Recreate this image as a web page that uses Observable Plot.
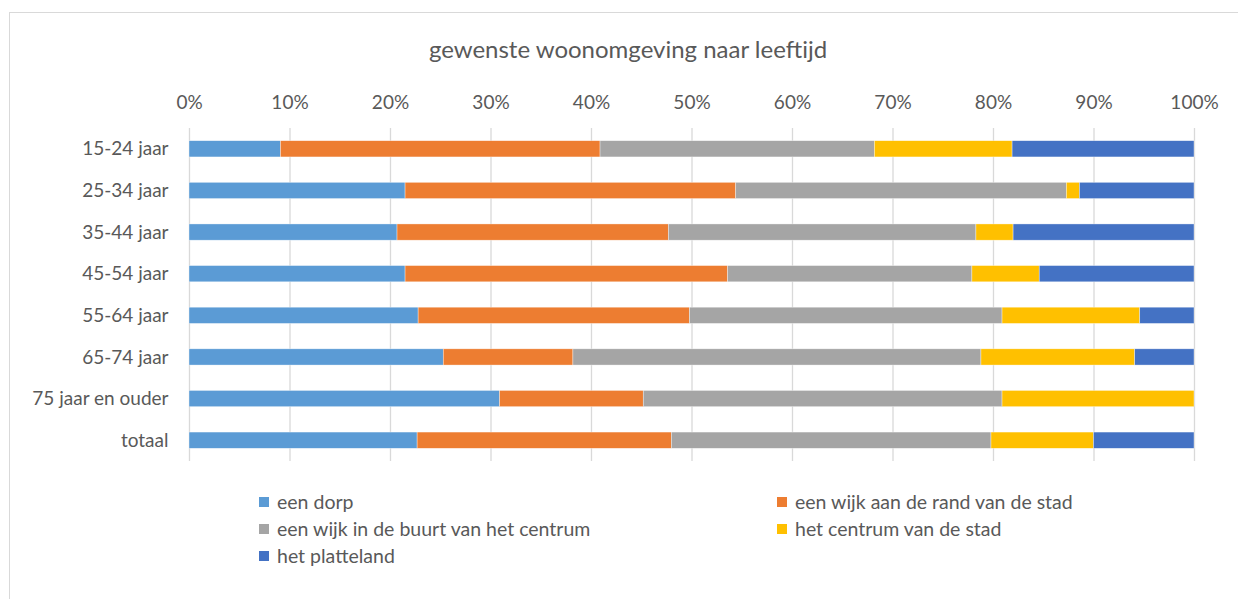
<!DOCTYPE html>
<html>
<head>
<meta charset="utf-8">
<script src="https://cdn.jsdelivr.net/npm/d3@7"></script>
<script src="https://cdn.jsdelivr.net/npm/@observablehq/plot@0.6"></script>
<style>
  html, body { margin: 0; padding: 0; background: #fff; width: 1238px; height: 599px; overflow: hidden; }
  body { font-family: Lato, "Open Sans", sans-serif; color: #595959; position: relative; }
  #frame { position: absolute; left: 9px; top: 12px; width: 1260px; height: 620px; border: 1px solid #d9d9d9; box-sizing: border-box; }
  #title { position: absolute; left: 0; width: 1256px; top: 35px; line-height: 28px; text-align: center; font-size: 24px; color: #595959; }
  #chart { position: absolute; left: 0; top: 0; }
  .leg { position: absolute; font-size: 19.5px; color: #595959; white-space: nowrap; line-height: 20px; }
  .leg span.sw { position: absolute; left: -18px; top: 5px; width: 10px; height: 10px; }
</style>
</head>
<body>
<div id="frame"></div>
<div id="title">gewenste woonomgeving naar leeftijd</div>
<div id="chart"></div>
<div id="legend"></div>
<script>
const ages = ["15-24 jaar", "25-34 jaar", "35-44 jaar", "45-54 jaar", "55-64 jaar", "65-74 jaar", "75 jaar en ouder", "totaal"];
const categories = ["een dorp", "een wijk aan de rand van de stad", "een wijk in de buurt van het centrum", "het centrum van de stad", "het platteland"];
const colors = ["#5B9BD5", "#ED7D31", "#A5A5A5", "#FFC000", "#4472C4"];
const dorp       = [9.1, 21.5, 20.7, 21.5, 22.8, 25.3, 30.9, 22.7];
const rand       = [31.8, 32.9, 27.0, 32.1, 27.0, 12.9, 14.3, 25.3];
const buurt      = [27.3, 32.9, 30.6, 24.3, 31.1, 40.6, 35.7, 31.8];
const centrum    = [13.7, 1.3, 3.7, 6.7, 13.7, 15.3, 19.1, 10.2];
const platteland = [18.1, 11.4, 18.0, 15.4, 5.4, 5.9, 0, 10.0];
const xTicks = [0, 10, 20, 30, 40, 50, 60, 70, 80, 90, 100];

const series = [dorp, rand, buurt, centrum, platteland];
const data = [];
ages.forEach((a, i) => {
  series.forEach((s, j) => data.push({age: a, category: categories[j], value: s[i]}));
});

const chart = Plot.plot({
  width: 1238,
  height: 470,
  marginTop: 128,
  marginBottom: 9,
  marginLeft: 189,
  marginRight: 44,
  style: {fontFamily: "Lato, 'Open Sans', sans-serif", fontSize: "19px", color: "#595959", background: "transparent"},
  x: {domain: [0, 100], ticks: xTicks, tickFormat: d => d + "%", axis: "top", tickSize: 0, tickPadding: 20, label: null},
  y: {domain: ages, paddingInner: 0.61, paddingOuter: 0.305, round: false, tickSize: 0, tickPadding: 21, label: null},
  color: {domain: categories, range: colors},
  marks: [
    Plot.gridX(xTicks, {stroke: "#d9d9d9", strokeOpacity: 1, strokeWidth: 1.3}),
    Plot.barX(data, {x: "value", y: "age", fill: "category", stroke: "#ffffff", strokeWidth: 0.6, strokeOpacity: 0.6})
  ]
});
document.getElementById("chart").appendChild(chart);

const legendPos = [[277, 492], [795, 492], [277, 519], [795, 519], [277, 546]];
const legend = document.getElementById("legend");
categories.forEach((c, i) => {
  const d = document.createElement("div");
  d.className = "leg";
  d.style.left = legendPos[i][0] + "px";
  d.style.top = legendPos[i][1] + "px";
  const sw = document.createElement("span");
  sw.className = "sw";
  sw.style.background = colors[i];
  d.appendChild(sw);
  d.appendChild(document.createTextNode(c));
  legend.appendChild(d);
});
</script>
</body>
</html>
